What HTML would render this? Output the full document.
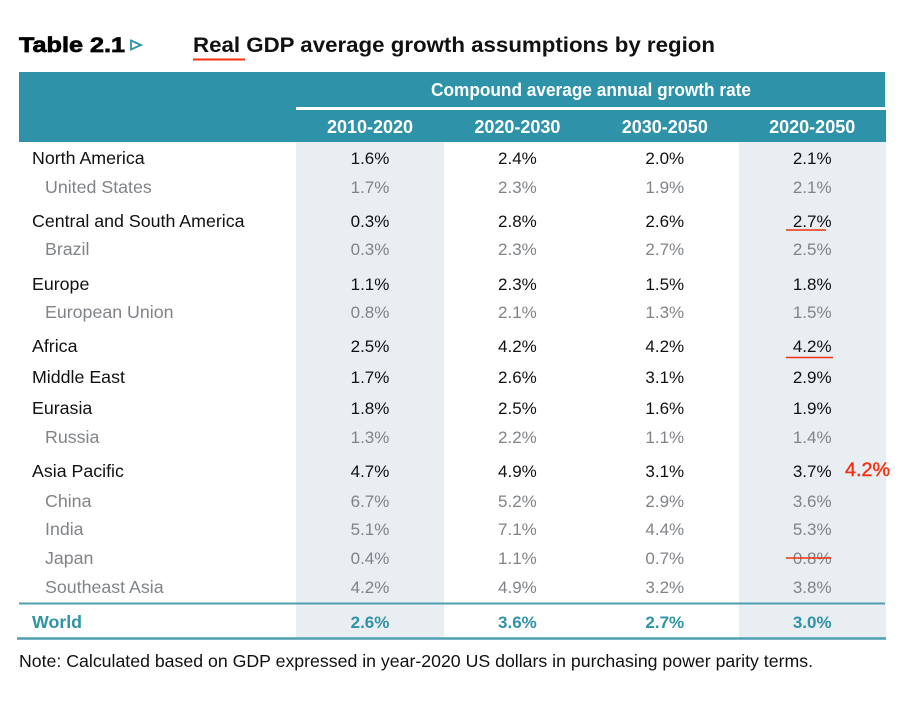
<!DOCTYPE html>
<html lang="en">
<head>
<meta charset="utf-8">
<title>Table 2.1 Real GDP average growth assumptions by region</title>
<style>
html,body{margin:0;padding:0;background:#fff;width:906px;height:710px;overflow:hidden}
svg{display:block}
text{font-family:"Liberation Sans",Arial,sans-serif}
</style>
</head>
<body>
<svg id="chart" width="906" height="710" viewBox="0 0 906 710" xmlns="http://www.w3.org/2000/svg">
  <rect x="0" y="0" width="906" height="710" fill="#ffffff"/>
  <text x="19" y="52" font-size="21.5" font-weight="700" fill="#000" stroke="#000" stroke-width="0.7" textLength="106" lengthAdjust="spacingAndGlyphs">Table 2.1</text>
  <path d="M131 40.5 L141 45 L131 49.5 Z" fill="none" stroke="#2e93a9" stroke-width="1.8"/>
  <text x="193" y="52" font-size="21.5" font-weight="700" fill="#111" textLength="522" lengthAdjust="spacingAndGlyphs">Real GDP average growth assumptions by region</text>
  <line x1="193" y1="59.5" x2="245" y2="59.5" stroke="#f5300f" stroke-width="2"/>

  <rect x="19" y="72" width="866" height="35" fill="#2e93a9"/>
  <rect x="19" y="107" width="277" height="3" fill="#2e93a9"/>
  <rect x="19" y="110" width="867" height="32" fill="#2e93a9"/>
  <rect x="296" y="142" width="148" height="496" fill="#e9eef3"/>
  <rect x="739" y="142" width="147" height="496" fill="#e9eef3"/>
  <text x="431" y="96" font-size="18" font-weight="700" fill="#fff" textLength="320" lengthAdjust="spacingAndGlyphs">Compound average annual growth rate</text>
  <g id="rows"></g>
  <line x1="19" y1="603.5" x2="885" y2="603.5" stroke="#4f9fb1" stroke-width="2"/>
  <line x1="17" y1="638.5" x2="886" y2="638.5" stroke="#4f9fb1" stroke-width="2.4"/>
  <text x="19" y="667" font-size="17.5" fill="#111" textLength="794" lengthAdjust="spacingAndGlyphs">Note: Calculated based on GDP expressed in year-2020 US dollars in purchasing power parity terms.</text>

  <line x1="786" y1="230" x2="826" y2="230" stroke="#f5300f" stroke-width="1.6"/>
  <line x1="786" y1="357.5" x2="833" y2="357.5" stroke="#f5300f" stroke-width="1.6"/>
  <line x1="786" y1="558" x2="831" y2="558" stroke="#f5300f" stroke-width="1.4"/>
  <text x="845" y="476" font-size="19" font-weight="400" fill="#f5300f" stroke="#f5300f" stroke-width="0.4" textLength="45" lengthAdjust="spacingAndGlyphs">4.2%</text>
</svg>
<script>
var periods = ["2010-2020", "2020-2030", "2030-2050", "2020-2050"];
var regions = ["North America", "United States", "Central and South America", "Brazil", "Europe", "European Union", "Africa", "Middle East", "Eurasia", "Russia", "Asia Pacific", "China", "India", "Japan", "Southeast Asia", "World"];
var rowKinds = ["main", "sub", "main", "sub", "main", "sub", "main", "main", "main", "sub", "main", "sub", "sub", "sub", "sub", "total"];
var rowCentres = [158, 187, 221, 249, 284, 312, 346, 377, 408, 437, 471, 501, 529, 558, 587, 622];
var growth2010to2020 = ["1.6%", "1.7%", "0.3%", "0.3%", "1.1%", "0.8%", "2.5%", "1.7%", "1.8%", "1.3%", "4.7%", "6.7%", "5.1%", "0.4%", "4.2%", "2.6%"];
var growth2020to2030 = ["2.4%", "2.3%", "2.8%", "2.3%", "2.3%", "2.1%", "4.2%", "2.6%", "2.5%", "2.2%", "4.9%", "5.2%", "7.1%", "1.1%", "4.9%", "3.6%"];
var growth2030to2050 = ["2.0%", "1.9%", "2.6%", "2.7%", "1.5%", "1.3%", "4.2%", "3.1%", "1.6%", "1.1%", "3.1%", "2.9%", "4.4%", "0.7%", "3.2%", "2.7%"];
var growth2020to2050 = ["2.1%", "2.1%", "2.7%", "2.5%", "1.8%", "1.5%", "4.2%", "2.9%", "1.9%", "1.4%", "3.7%", "3.6%", "5.3%", "0.8%", "3.8%", "3.0%"];
var seriesValues = [growth2010to2020, growth2020to2030, growth2030to2050, growth2020to2050];

var NS = "http://www.w3.org/2000/svg";
var host = document.getElementById("rows");
var columnCentre = function (i) { return 370 + i * 147.4; };
var kindFill = { main: "#111111", sub: "#808488", total: "#2f93a8" };

function addText(str, x, y, size, fill, bold, anchor) {
  var t = document.createElementNS(NS, "text");
  t.setAttribute("x", x);
  t.setAttribute("y", y);
  t.setAttribute("font-size", size);
  t.setAttribute("fill", fill);
  if (bold) t.setAttribute("font-weight", "700");
  if (anchor) t.setAttribute("text-anchor", anchor);
  t.textContent = str;
  host.appendChild(t);
  return t;
}

periods.forEach(function (p, i) {
  var el = addText(p, columnCentre(i), 133, 18, "#ffffff", true, "middle");
  
  
});

regions.forEach(function (name, r) {
  var kind = rowKinds[r];
  var baseline = rowCentres[r] + 6;
  var labelX = kind === "sub" ? 45 : 32;
  var label = addText(name, labelX, baseline, 17.8, kindFill[kind], kind === "total");
  
  
  seriesValues.forEach(function (values, c) {
    var cell = addText(values[r], columnCentre(c), baseline, 17, kindFill[kind], kind === "total", "middle");
    
    
  });
});
</script>
</body>
</html>
